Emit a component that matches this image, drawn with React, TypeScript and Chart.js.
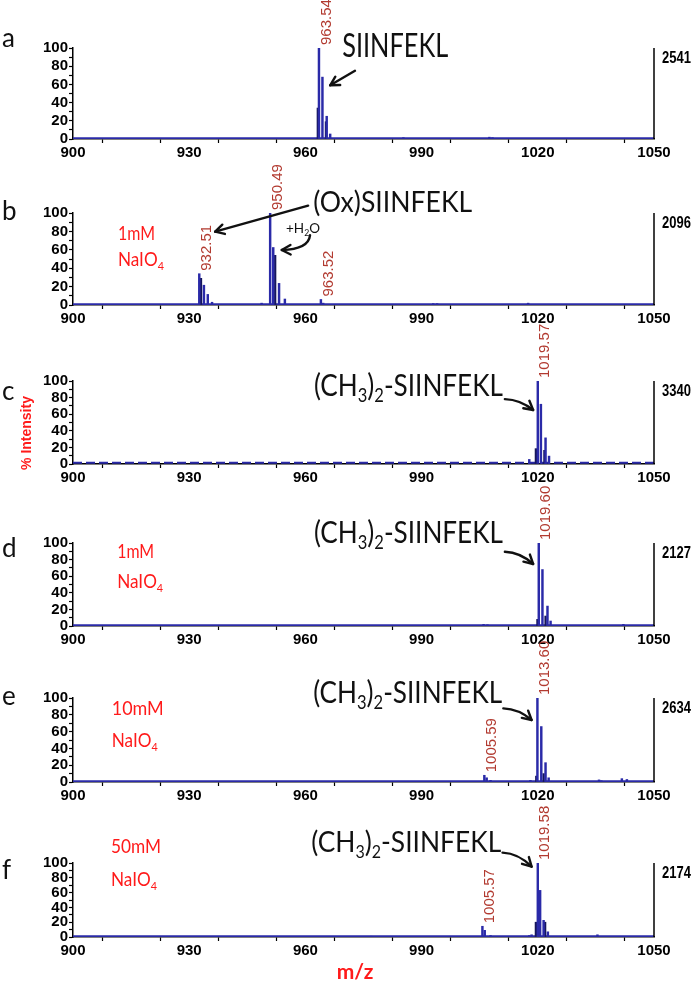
import React, { useEffect, useRef } from 'react';
import { Chart, registerables } from 'chart.js';
Chart.register(...registerables);

// ---------- data (m/z positions and % intensities) ----------
const X_MIN = 900;
const X_MAX = 1050;
const X_STEP = 15;
const Y_STEP = 10;

// panel a
const mzA = [963.5, 964.4, 965.5, 966.4, 985.3, 1007.5, 1008.3];
const intA = [100, 68, 25, 5.5, 1.5, 2, 1.5];
const mzA2 = [963.2, 965.3];
const intA2 = [34, 19];
// panel b
const mzB = [932.6, 933.8, 934.8, 935.9, 948.7, 950.9, 951.7, 953.2, 954.7, 964.0, 964.6, 993.0, 994.0, 1017.5];
const intB = [34, 21.5, 11.5, 3, 2, 100, 62.5, 23.5, 6.5, 6, 2, 1.5, 1.5, 2];
const mzB2 = [933.05, 952.2];
const intB2 = [29, 54];
// panel c
const mzC = [1017.8, 1020.0, 1020.8, 1022.0, 1022.9];
const intC = [5.5, 100, 72, 31.5, 9.5];
const mzC2 = [1019.5, 1021.7];
const intC2 = [18.5, 16.5];
// panel d
const mzD = [1006.0, 1007.0, 1020.25, 1021.2, 1022.5, 1023.3, 1042.1];
const intD = [2, 1.5, 100, 68, 24, 6, 2];
const mzD2 = [1019.9, 1022.0];
const intD2 = [8, 12];
// panel e
const mzE = [1006.2, 1006.8, 1007.8, 1018.1, 1019.9, 1020.9, 1022.0, 1022.8, 1035.8, 1036.4, 1041.7, 1043.0];
const intE = [8, 5, 2, 2, 100, 66, 23, 5, 2.5, 1.5, 4, 3];
const mzE2 = [1019.6, 1021.5];
const intE2 = [7, 10];
// panel f
const mzF = [977.0, 1005.7, 1006.3, 1007.8, 1017.8, 1018.4, 1020.0, 1020.6, 1021.5, 1022.6, 1035.4];
const intF = [1, 14.5, 9, 2, 2, 3, 100, 63, 22.5, 7, 3];
const mzF2 = [1019.5, 1021.9];
const intF2 = [20, 20];

// baseline levels (% intensity)
const baseLevels = [0.8, 0.8, 1.5, 0.8, 0.8, 1.0];
// total intensities shown at right
const totals = ['2541', '2096', '3340', '2127', '2634', '2174'];
const letters = ['a', 'b', 'c', 'd', 'e', 'f'];

// ---------- styling ----------
const W = 700;
const H = 988;
const PLOT_LEFT = 73;
const PLOT_RIGHT = 654;
const Y_AXIS_W = 40;
const X_AXIS_H = 22;
const BLUE = '#2a2aa8';
const DARK = '#16165a';
const LABEL_RED = '#b23a30';
const RED = '#ff1a1a';
const TICK_FAMILY = '"Liberation Sans", Arial, sans-serif';
const ANN_FAMILY = 'Lato, "Open Sans", sans-serif';

type Txt = { s: string; x: number; y: number; size: number; w: number; color: string };
type Arr = { x1: number; y1: number; x2: number; y2: number; curve?: 'h' | 'v' };
type Panel = {
  top: number; bottom: number; letterDy: number;
  mz: number[]; inten: number[]; mz2: number[]; inten2: number[];
  dash: boolean;
  peakLabels: [number, string][];
  texts: Txt[]; arrows: Arr[];
  extraY?: boolean; extraX?: boolean;
};

const BLACK = '#111';
const panels: Panel[] = [
  {
    top: 48, bottom: 139, letterDy: -1, mz: mzA, inten: intA, mz2: mzA2, inten2: intA2, dash: false,
    peakLabels: [[0, '963.54']],
    texts: [{ s: 'SIINFEKL', x: 969.5, y: 90, size: 33, w: 106, color: BLACK }],
    arrows: [{ x1: 972.8, y1: 75, x2: 966.4, y2: 59 }],
  },
  {
    top: 213, bottom: 305, letterDy: 7, mz: mzB, inten: intB, mz2: mzB2, inten2: intB2, dash: false,
    peakLabels: [[0, '932.51'], [5, '950.49'], [9, '963.52']],
    texts: [
      { s: '(Ox)SIINFEKL', x: 962.0, y: 101.4, size: 28, w: 159, color: BLACK },
      { s: '+H_2O', x: 955.0, y: 78, size: 14, w: 34, color: BLACK },
      { s: '1mM', x: 911.6, y: 70.6, size: 19, w: 37, color: RED },
      { s: 'NaIO_4', x: 911.6, y: 42.4, size: 19, w: 46, color: RED },
    ],
    arrows: [
      { x1: 960.7, y1: 108, x2: 936.7, y2: 79.7 },
      { x1: 961.2, y1: 76, x2: 953.9, y2: 59.8, curve: 'v' },
    ],
  },
  {
    top: 381, bottom: 464, letterDy: 19, mz: mzC, inten: intC, mz2: mzC2, inten2: intC2, dash: true,
    peakLabels: [[1, '1019.57']],
    texts: [{ s: '(CH_3)_2-SIINFEKL', x: 962.2, y: 82, size: 30, w: 189, color: BLACK }],
    arrows: [{ x1: 1011.5, y1: 78.2, x2: 1018.8, y2: 65, curve: 'h' }],
    extraY: true,
  },
  {
    top: 543, bottom: 626, letterDy: 14, mz: mzD, inten: intD, mz2: mzD2, inten2: intD2, dash: false,
    peakLabels: [[2, '1019.60']],
    texts: [
      { s: '(CH_3)_2-SIINFEKL', x: 962.2, y: 99.6, size: 30, w: 189, color: BLACK },
      { s: '1mM', x: 911.4, y: 81.6, size: 19, w: 37, color: RED },
      { s: 'NaIO_4', x: 911.4, y: 45.4, size: 19, w: 46, color: RED },
    ],
    arrows: [{ x1: 1011.5, y1: 89.5, x2: 1018.8, y2: 74.7, curve: 'h' }],
  },
  {
    top: 698, bottom: 782, letterDy: 7, mz: mzE, inten: intE, mz2: mzE2, inten2: intE2, dash: false,
    peakLabels: [[0, '1005.59'], [4, '1013.60']],
    texts: [
      { s: '(CH_3)_2-SIINFEKL', x: 962.0, y: 94, size: 30, w: 189, color: BLACK },
      { s: '10mM', x: 910.0, y: 79.8, size: 19, w: 52, color: RED },
      { s: 'NaIO_4', x: 910.0, y: 42, size: 19, w: 46, color: RED },
    ],
    arrows: [{ x1: 1011.1, y1: 87.7, x2: 1018.4, y2: 73.8, curve: 'h' }],
  },
  {
    top: 863, bottom: 937, letterDy: 16, mz: mzF, inten: intF, mz2: mzF2, inten2: intF2, dash: false,
    peakLabels: [[1, '1005.57'], [6, '1019.58']],
    texts: [
      { s: '(CH_3)_2-SIINFEKL', x: 961.5, y: 115, size: 28, w: 190, color: BLACK },
      { s: '50mM', x: 909.8, y: 113.5, size: 19, w: 50, color: RED },
      { s: 'NaIO_4', x: 909.8, y: 68.5, size: 19, w: 46, color: RED },
    ],
    arrows: [{ x1: 1010.9, y1: 114, x2: 1018.4, y2: 95, curve: 'h' }],
    extraX: true,
  },
];

// ---------- drawing helpers ----------
function drawRich(ctx: CanvasRenderingContext2D, s: string, x: number, y: number, size: number, color: string, targetW: number) {
  const segs: { t: string; sub: boolean }[] = [];
  for (let i = 0; i < s.length; i++) {
    if (s[i] === '_' && i + 1 < s.length) {
      segs.push({ t: s[i + 1], sub: true });
      i++;
    } else {
      const last = segs[segs.length - 1];
      if (last && !last.sub) last.t += s[i];
      else segs.push({ t: s[i], sub: false });
    }
  }
  const fontFor = (sub: boolean) => `400 ${sub ? Math.round(size * 0.62) : size}px ${ANN_FAMILY}`;
  let total = 0;
  for (const sg of segs) {
    ctx.font = fontFor(sg.sub);
    total += ctx.measureText(sg.t).width;
  }
  const sx = targetW > 0 && total > 0 ? targetW / total : 1;
  ctx.save();
  ctx.translate(x, y);
  ctx.scale(sx, 1);
  ctx.fillStyle = color;
  ctx.textBaseline = 'alphabetic';
  ctx.textAlign = 'left';
  let cx = 0;
  for (const sg of segs) {
    ctx.font = fontFor(sg.sub);
    ctx.fillText(sg.t, cx, sg.sub ? size * 0.2 : 0);
    cx += ctx.measureText(sg.t).width;
  }
  ctx.restore();
}

function drawArrow(ctx: CanvasRenderingContext2D, x1: number, y1: number, x2: number, y2: number, curve?: 'h' | 'v') {
  ctx.save();
  ctx.strokeStyle = '#111';
  ctx.lineWidth = 2.4;
  ctx.lineCap = 'round';
  ctx.lineJoin = 'round';
  ctx.beginPath();
  ctx.moveTo(x1, y1);
  let fx = x1;
  let fy = y1;
  if (curve === 'h') {
    const cx = x1 + 0.55 * (x2 - x1);
    const cy = y1 + 0.05 * (y2 - y1);
    ctx.quadraticCurveTo(cx, cy, x2, y2);
    fx = cx; fy = cy;
  } else if (curve === 'v') {
    const cx = x1 - 0.05 * (x1 - x2);
    const cy = y2 - 0.05 * (y2 - y1);
    ctx.quadraticCurveTo(cx, cy, x2, y2);
    fx = cx; fy = cy;
  } else {
    ctx.lineTo(x2, y2);
  }
  ctx.stroke();
  const ang = Math.atan2(y2 - fy, x2 - fx);
  const L = 10;
  const a = 0.5;
  ctx.beginPath();
  ctx.moveTo(x2 - L * Math.cos(ang - a), y2 - L * Math.sin(ang - a));
  ctx.lineTo(x2, y2);
  ctx.lineTo(x2 - L * Math.cos(ang + a), y2 - L * Math.sin(ang + a));
  ctx.stroke();
  ctx.restore();
}

function makePlugin(p: Panel, idx: number) {
  return {
    id: 'annot' + idx,
    afterDraw(chart: any) {
      const ctx: CanvasRenderingContext2D = chart.ctx;
      const xs = chart.scales.x;
      const ys = chart.scales.y;
      const area = chart.chartArea;
      ctx.save();
      // right border line
      ctx.strokeStyle = '#000';
      ctx.lineWidth = 1.5;
      ctx.beginPath();
      ctx.moveTo(area.right, area.bottom);
      ctx.lineTo(area.right, area.top);
      ctx.stroke();
      // total intensity
      ctx.save();
      ctx.translate(area.right + 8, area.top + 15);
      ctx.scale(1, 1.2);
      ctx.font = `bold 13px ${TICK_FAMILY}`;
      ctx.fillStyle = '#000';
      ctx.textAlign = 'left';
      ctx.textBaseline = 'alphabetic';
      ctx.fillText(totals[idx], 0, 0);
      ctx.restore();
      // letter
      ctx.font = `400 26px ${ANN_FAMILY}`;
      ctx.fillStyle = '#111';
      ctx.textAlign = 'left';
      ctx.textBaseline = 'alphabetic';
      ctx.fillText(letters[idx], 2, area.top + p.letterDy);
      // peak labels
      for (const [i, t] of p.peakLabels) {
        const px = xs.getPixelForValue(p.mz[i]) + 7.5;
        const py = ys.getPixelForValue(p.inten[i]) - 3;
        ctx.save();
        ctx.translate(px, py);
        ctx.rotate(-Math.PI / 2);
        ctx.font = `15px ${TICK_FAMILY}`;
        ctx.fillStyle = LABEL_RED;
        ctx.textAlign = 'left';
        ctx.textBaseline = 'middle';
        ctx.fillText(t, 0, 0);
        ctx.restore();
      }
      // texts
      for (const t of p.texts) {
        drawRich(ctx, t.s, xs.getPixelForValue(t.x), ys.getPixelForValue(t.y), t.size, t.color, t.w);
      }
      // arrows
      for (const a of p.arrows) {
        drawArrow(ctx, xs.getPixelForValue(a.x1), ys.getPixelForValue(a.y1), xs.getPixelForValue(a.x2), ys.getPixelForValue(a.y2), a.curve);
      }
      if (p.extraY) {
        ctx.save();
        ctx.translate(area.left - 46, area.top + 52);
        ctx.rotate(-Math.PI / 2);
        ctx.font = `bold 14px ${TICK_FAMILY}`;
        ctx.fillStyle = RED;
        ctx.textAlign = 'center';
        ctx.textBaseline = 'middle';
        ctx.fillText('% Intensity', 0, 0);
        ctx.restore();
      }
      if (p.extraX) {
        ctx.font = `bold 21px ${ANN_FAMILY}`;
        ctx.fillStyle = RED;
        ctx.textAlign = 'center';
        ctx.textBaseline = 'alphabetic';
        ctx.fillText('m/z', 355, area.bottom + 42);
      }
      ctx.restore();
    },
  };
}

export default function App() {
  const refs = useRef<(HTMLCanvasElement | null)[]>([]);
  useEffect(() => {
    const charts: Chart[] = [];
    panels.forEach((p, idx) => {
      const cv = refs.current[idx];
      if (!cv) return;
      const base = baseLevels[idx];
      const cfg: any = {
        type: 'bar',
        data: {
          datasets: [
            {
              type: 'line',
              data: [{ x: X_MIN, y: base }, { x: X_MAX, y: base }],
              borderColor: BLUE,
              borderWidth: 2,
              borderDash: p.dash ? [9, 4] : [],
              pointRadius: 0,
              order: 3,
            },
            {
              type: 'bar',
              data: p.mz2.map((x, i) => ({ x, y: p.inten2[i] })),
              backgroundColor: DARK,
              barThickness: 1.6,
              grouped: false,
              borderWidth: 0,
              order: 2,
            },
            {
              type: 'bar',
              data: p.mz.map((x, i) => ({ x, y: p.inten[i] })),
              backgroundColor: BLUE,
              barThickness: 1.8,
              grouped: false,
              borderWidth: 0,
              order: 1,
            },
          ],
        },
        options: {
          animation: false,
          responsive: false,
          maintainAspectRatio: false,
          events: [],
          layout: {
            padding: {
              left: PLOT_LEFT - Y_AXIS_W,
              right: W - PLOT_RIGHT,
              top: p.top,
              bottom: H - p.bottom - X_AXIS_H,
            },
          },
          plugins: { legend: { display: false }, tooltip: { enabled: false }, title: { display: false } },
          scales: {
            x: {
              type: 'linear',
              min: X_MIN,
              max: X_MAX,
              offset: false,
              afterFit: (s: any) => { s.height = X_AXIS_H; },
              ticks: {
                stepSize: X_STEP,
                autoSkip: false,
                maxRotation: 0,
                callback: (v: number) => (v % 30 === 0 ? String(v) : ''),
                font: { family: TICK_FAMILY, size: 15, weight: 'bold' },
                color: '#000',
                padding: 1,
              },
              grid: { drawOnChartArea: false, drawTicks: true, tickLength: 4, tickColor: '#000', tickWidth: 1.2 },
              border: { color: '#000', width: 1.5 },
            },
            y: {
              type: 'linear',
              min: 0,
              max: 100,
              afterFit: (s: any) => { s.width = Y_AXIS_W; },
              ticks: {
                stepSize: Y_STEP,
                autoSkip: false,
                callback: (v: number) => (v % 20 === 0 ? String(v) : ''),
                font: { family: TICK_FAMILY, size: 15, weight: 'bold' },
                color: '#000',
                padding: 1,
              },
              grid: { drawOnChartArea: false, drawTicks: true, tickLength: 4, tickColor: '#000', tickWidth: 1.2 },
              border: { color: '#000', width: 1.5 },
            },
          },
        },
        plugins: [makePlugin(p, idx)],
      };
      charts.push(new Chart(cv, cfg));
    });
    return () => charts.forEach((c) => c.destroy());
  }, []);

  return (
    <div style={{ position: 'absolute', left: 0, top: 0, width: W, height: H, background: '#fff' }}>
      {panels.map((_, i) => (
        <canvas
          key={i}
          ref={(el) => { refs.current[i] = el; }}
          width={W}
          height={H}
          style={{ position: 'absolute', left: 0, top: 0, width: W, height: H }}
        />
      ))}
    </div>
  );
}
